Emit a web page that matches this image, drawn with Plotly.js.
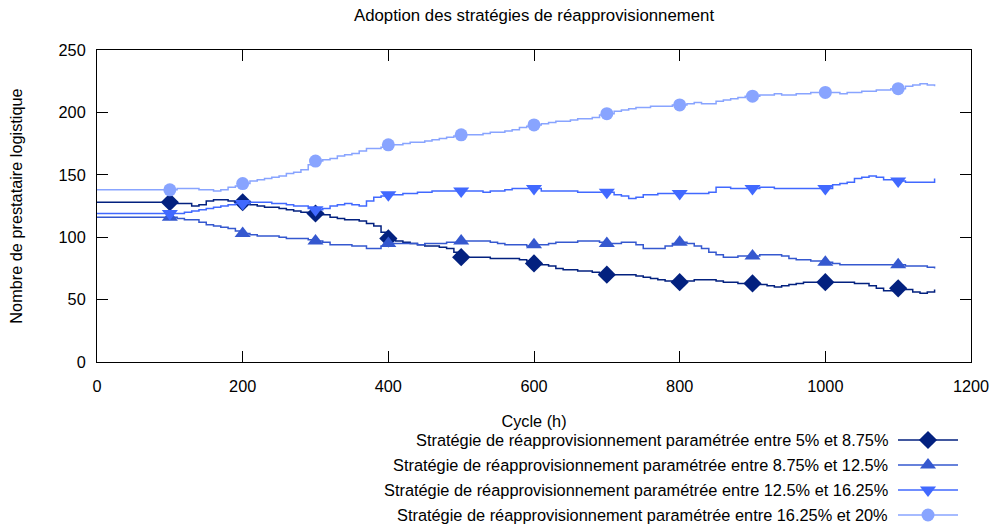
<!DOCTYPE html>
<html>
<head>
<meta charset="utf-8">
<script src="https://cdn.plot.ly/plotly-3.0.1.min.js"></script>
<style>html,body{margin:0;padding:0;background:#fff;}</style>
</head>
<body>
<div id="chart" style="width:993px;height:529px;"></div>
<script>
// ---- Data ----
const cycles = [0,10,20,30,40,50,60,70,80,90,100,110,120,130,140,150,160,170,180,190,200,210,220,230,240,250,260,270,280,290,300,310,320,330,340,350,360,370,380,390,400,410,420,430,440,450,460,470,480,490,500,510,520,530,540,550,560,570,580,590,600,610,620,630,640,650,660,670,680,690,700,710,720,730,740,750,760,770,780,790,800,810,820,830,840,850,860,870,880,890,900,910,920,930,940,950,960,970,980,990,1000,1010,1020,1030,1040,1050,1060,1070,1080,1090,1100,1110,1120,1130,1140,1150];

const s1_5_875 = [128,128,128,128,128,128,128,128,128,128,128,
  127,127,125,126,129,130,130,129,129,128,
  126,125,124,124,123,122,121,120,120,119,
  118,116,115,114,114,113,111,109,104,99,
  97,96,95,94,93,93,92,91,88,84,
  84,84,84,83,83,83,83,82,81,79,
  78,77,75,74,74,73,73,72,71,70,
  70,70,70,69,68,67,66,65,64,64,
  65,66,66,66,65,64,64,63,63,63,
  62,61,60,61,62,63,64,64,64,64,
  64,64,64,63,63,61,59,57,57,59,
  58,56,55,56,58];

const s2_875_125 = [116,116,116,116,116,116,116,116,116,116,116,
  115,114,114,112,110,109,108,107,105,103,
  102,101,101,101,100,99,99,99,98,97,
  96,94,94,94,93,93,91,91,93,95,
  95,95,95,94,95,95,95,96,96,97,
  97,97,97,96,95,94,94,94,93,94,
  94,95,96,96,96,97,97,97,96,95,
  95,96,96,94,91,91,91,93,95,96,
  95,93,91,88,86,84,84,85,85,85,
  86,86,86,85,83,82,82,81,81,80,
  79,78,78,78,78,78,78,78,78,78,
  77,77,77,76,75];

const s3_125_1625 = [119,119,119,119,119,119,119,119,119,119,119,
  119,120,121,122,123,124,125,126,127,127,
  128,128,128,127,127,126,125,125,123,122,
  123,125,126,127,126,125,129,132,133,134,
  134,135,135,136,136,137,137,137,137,137,
  137,137,136,137,137,138,139,139,139,139,
  137,137,137,137,137,136,136,136,136,136,
  134,133,131,132,134,134,135,135,135,135,
  135,135,135,136,140,140,139,139,139,139,
  140,140,139,139,139,139,139,139,139,139,
  142,143,144,147,148,149,148,146,146,145,
  144,144,144,144,147];

const s4_1625_20 = [138,138,138,138,138,138,138,138,138,138,138,
  139,139,139,138,138,137,138,140,141,143,
  145,146,147,148,149,151,152,154,158,161,
  162,163,165,166,167,169,171,171,172,174,
  174,175,176,176,177,178,179,180,181,182,
  182,182,183,184,184,185,186,188,189,190,
  191,192,193,193,194,195,195,196,198,199,
  201,202,203,204,204,205,205,205,206,206,
  207,208,207,207,209,210,211,212,213,213,
  214,214,215,214,214,215,215,216,216,216,
  216,215,216,216,217,217,218,218,219,219,
  221,222,223,222,221];

const markerCycles = [100,200,300,400,500,600,700,800,900,1000,1100];

const seriesNames = [
  "Stratégie de réapprovisionnement paramétrée entre 5% et 8.75%",
  "Stratégie de réapprovisionnement paramétrée entre 8.75% et 12.5%",
  "Stratégie de réapprovisionnement paramétrée entre 12.5% et 16.25%",
  "Stratégie de réapprovisionnement paramétrée entre 16.25% et 20%"
];
const xTickVals = [0,200,400,600,800,1000,1200];
const yTickVals = [0,50,100,150,200,250];

// ---- Styles ----
const seriesValues = [s1_5_875, s2_875_125, s3_125_1625, s4_1625_20];
const colors = ["#03217f", "#3558cf", "#4169ff", "#88a4ff"];
const symbols = ["diamond", "triangle-up", "triangle-down", "circle"];
const msizes = [14, 14, 14, 13];
const FONT = "Liberation Sans, Arial, sans-serif";

const traces = [];
seriesValues.forEach((vals, i) => {
  traces.push({
    x: cycles, y: vals, type: "scatter", mode: "lines",
    line: {color: colors[i], width: 1.5, shape: "hv"},
    name: seriesNames[i], showlegend: false, hoverinfo: "x+y"
  });
  traces.push({
    x: markerCycles, y: markerCycles.map(c => vals[cycles.indexOf(c)]),
    type: "scatter", mode: "markers",
    marker: {color: colors[i], symbol: symbols[i], size: msizes[i]},
    name: seriesNames[i], showlegend: false
  });
});

// Manual legend (text right-aligned, symbol on the right) in its own small axes
const legendAnn = [];
seriesValues.forEach((vals, i) => {
  const ly = 4 - i;
  traces.push({
    x: [0, 1], y: [ly, ly], xaxis: "x2", yaxis: "y2", type: "scatter", mode: "lines",
    line: {color: colors[i], width: 1.5}, showlegend: false, hoverinfo: "skip"
  });
  traces.push({
    x: [0.5], y: [ly], xaxis: "x2", yaxis: "y2", type: "scatter", mode: "markers",
    marker: {color: colors[i], symbol: symbols[i], size: msizes[i]}, showlegend: false, hoverinfo: "skip"
  });
  legendAnn.push({
    xref: "x2", yref: "y2", x: 0, y: ly, text: seriesNames[i], showarrow: false,
    xanchor: "right", yanchor: "middle", xshift: -8,
    font: {family: FONT, size: 16.35, color: "#000"}
  });
});

const axisCommon = {
  showgrid: false, zeroline: false, showline: true, linecolor: "#000", linewidth: 1,
  mirror: "ticks", ticks: "inside", ticklen: 11, tickcolor: "#000", tickwidth: 1,
  tickfont: {family: FONT, size: 16.3, color: "#000"}
};

const layout = {
  width: 993, height: 529,
  margin: {l: 97, r: 22, t: 50, b: 5},
  paper_bgcolor: "#fff", plot_bgcolor: "#fff",
  font: {family: FONT, size: 16, color: "#000"},
  title: {text: "Adoption des stratégies de réapprovisionnement",
          font: {family: FONT, size: 16.8, color: "#000"},
          x: 0.5, xref: "paper", y: 1 - 15/529, yref: "container", yanchor: "middle"},
  xaxis: Object.assign({}, axisCommon, {
    range: [0, 1200], tickvals: xTickVals, domain: [0, 1], anchor: "y",
    ticklabelstandoff: 9,
    title: {text: "Cycle (h)", font: {family: FONT, size: 16.3, color: "#000"}, standoff: 22}
  }),
  yaxis: Object.assign({}, axisCommon, {
    range: [0, 250], tickvals: yTickVals, domain: [(524 - 362) / 474, 1], anchor: "x",
    ticklabelstandoff: 7,
    title: {text: "Nombre de prestataire logistique", font: {family: FONT, size: 16.3, color: "#000"}, standoff: 31}
  }),
  xaxis2: {domain: [(898 - 97) / 874, (958 - 97) / 874], range: [0, 1], anchor: "y2", visible: false, fixedrange: true},
  yaxis2: {domain: [0, 0.2], range: [0.64, 4.432], anchor: "x2", visible: false, fixedrange: true},
  annotations: legendAnn,
  showlegend: false
};

Plotly.newPlot("chart", traces, layout, {displayModeBar: false, staticPlot: true});
</script>
</body>
</html>
